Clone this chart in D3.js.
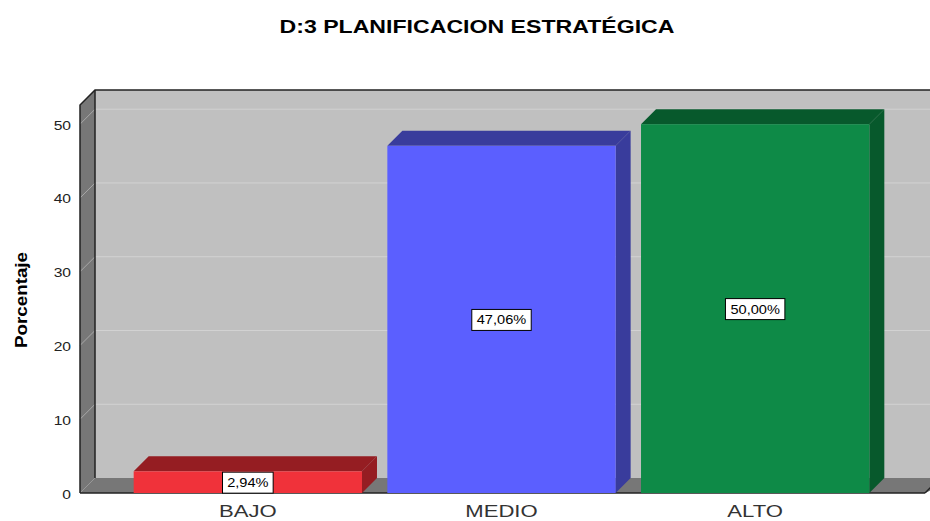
<!DOCTYPE html>
<html>
<head>
<meta charset="utf-8">
<script src="https://cdn.jsdelivr.net/npm/d3@7"></script>
<style>
  body { margin: 0; background: #fff; }
  svg { display: block; font-family: "Liberation Sans", Arial, sans-serif; }
</style>
</head>
<body>
<svg id="chart" width="930" height="521"></svg>
<script>
// ── DATA ──────────────────────────────────────────────
const categories = ['BAJO', 'MEDIO', 'ALTO'];
const values     = [2.94, 47.06, 50.00];
const yTicks     = [0, 10, 20, 30, 40, 50];
const frontColors = ['#f0323a', '#5b5fff', '#0e8a47'];
const darkColors  = ['#951d22', '#393c9c', '#07592c'];

// ── LAYOUT ────────────────────────────────────────────
const DX = 15, DY = 15;          // 3D depth offset
const floorY = 493, topY = 105;
const left = 80, right = 925;

const svg = d3.select('#chart');

// the source chart's text is stretched sideways, so widen glyphs a bit
function stretch(sel, factor) {
  sel.each(function() {
    const w = this.getComputedTextLength();
    d3.select(this).attr('textLength', w * factor).attr('lengthAdjust', 'spacingAndGlyphs');
  });
}

const y = d3.scaleLinear().domain([0, 52.6]).range([floorY, topY]);
const x = d3.scaleBand().domain(categories).range([121, 882])
  .paddingInner(0.1).paddingOuter(0.05);

// back wall
svg.append('rect')
  .attr('x', left + DX).attr('y', topY - DY)
  .attr('width', right - left + 20).attr('height', floorY - topY)
  .attr('fill', '#c0c0c0');

// left side wall
svg.append('polygon')
  .attr('points', [[left, topY], [left + DX, topY - DY], [left + DX, floorY - DY], [left, floorY]].join(' '))
  .attr('fill', '#777777');

// floor
svg.append('polygon')
  .attr('points', [[left, floorY], [left + DX, floorY - DY], [right + DX + 20, floorY - DY], [right, floorY]].join(' '))
  .attr('fill', '#777777');

// gridlines (side wall + back wall)
const grid = svg.append('g');
yTicks.filter(t => t > 0).forEach(t => {
  grid.append('line')
    .attr('x1', left).attr('y1', y(t)).attr('x2', left + DX).attr('y2', y(t) - DY)
    .attr('stroke', '#a8a8a8').attr('stroke-width', 1);
  grid.append('line')
    .attr('x1', left + DX).attr('y1', y(t) - DY).attr('x2', 940).attr('y2', y(t) - DY)
    .attr('stroke', '#d2d2d2').attr('stroke-width', 1);
});

// wall outlines
const edge = svg.append('g').attr('stroke', '#222').attr('stroke-width', 1.5).attr('fill', 'none');
edge.append('polyline')
  .attr('points', [[left, floorY], [left, topY], [left + DX, topY - DY], [940, topY - DY]].join(' '));
edge.append('line')
  .attr('x1', left + DX).attr('y1', topY - DY).attr('x2', left + DX).attr('y2', floorY - DY);
edge.append('line')
  .attr('x1', left).attr('y1', floorY).attr('x2', right).attr('y2', floorY);
edge.append('line')
  .attr('x1', right).attr('y1', floorY).attr('x2', right + DX).attr('y2', floorY - DY);

// bars
const bars = svg.append('g');
categories.forEach((c, i) => {
  const x0 = x(c), x1 = x(c) + x.bandwidth(), yt = y(values[i]);
  bars.append('polygon')
    .attr('points', [[x0, yt], [x0 + DX, yt - DY], [x1 + DX, yt - DY], [x1, yt]].join(' '))
    .attr('fill', darkColors[i]);
  bars.append('polygon')
    .attr('points', [[x1, yt], [x1 + DX, yt - DY], [x1 + DX, floorY - DY], [x1, floorY]].join(' '))
    .attr('fill', darkColors[i]);
  bars.append('rect')
    .attr('x', x0).attr('y', yt).attr('width', x1 - x0).attr('height', floorY - yt)
    .attr('fill', frontColors[i]);
});

// value labels
const labels = svg.append('g');
categories.forEach((c, i) => {
  const cx = x(c) + x.bandwidth() / 2, cy = y(values[i] / 2);
  const txt = values[i].toFixed(2).replace('.', ',') + '%';
  const t = labels.append('text')
    .attr('x', cx).attr('y', cy + 5)
    .attr('text-anchor', 'middle').attr('font-size', 13.5).attr('fill', '#000')
    .text(txt);
  stretch(t, 1.08);
  const w = t.node().getComputedTextLength() * 1.08;
  labels.insert('rect', 'text')
    .attr('x', cx - w / 2 - 3).attr('y', cy - 10).attr('width', w + 6).attr('height', 21)
    .attr('fill', '#fff').attr('stroke', '#000').attr('stroke-width', 1);
});

// y axis
const yAxis = svg.append('g')
  .attr('transform', 'translate(71,1)')
  .call(d3.axisLeft(y).tickValues(yTicks).tickSize(0).tickPadding(0));
yAxis.select('.domain').remove();
yAxis.selectAll('text').attr('font-size', 12.5).attr('fill', '#222')
  .attr('font-family', '"Liberation Sans", Arial, sans-serif')
  .call(stretch, 1.25);

// x category labels
svg.append('g').selectAll('text').data(categories).join('text')
  .attr('x', d => x(d) + x.bandwidth() / 2)
  .attr('y', 517)
  .attr('text-anchor', 'middle').attr('font-size', 16).attr('fill', '#333')
  .text(d => d)
  .call(stretch, 1.38);

// axis title
svg.append('text')
  .attr('transform', 'translate(27,300) rotate(-90)')
  .attr('text-anchor', 'middle').attr('font-size', 16).attr('font-weight', 'bold')
  .attr('textLength', 96).attr('lengthAdjust', 'spacingAndGlyphs')
  .text('Porcentaje');

// chart title
svg.append('text')
  .attr('x', 477).attr('y', 33)
  .attr('text-anchor', 'middle').attr('font-size', 19).attr('font-weight', 'bold')
  .attr('textLength', 395).attr('lengthAdjust', 'spacingAndGlyphs')
  .text('D:3 PLANIFICACION ESTRATÉGICA');
</script>
</body>
</html>
